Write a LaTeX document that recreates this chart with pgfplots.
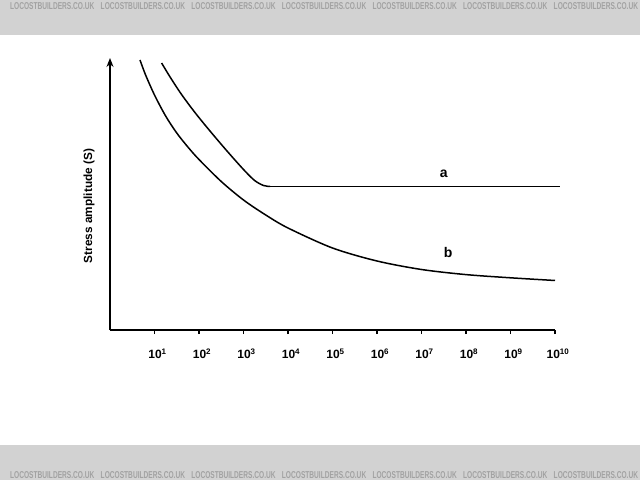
\documentclass[border=0pt]{standalone}
\usepackage{pgfplots}
\pgfplotsset{compat=1.18}
\usepackage{fontspec}
\setmainfont{Liberation Sans}
\usetikzlibrary{arrows.meta}
\definecolor{band}{HTML}{D2D2D2}
\definecolor{wm}{HTML}{A2A2A2}
\begin{document}
\begin{tikzpicture}
\useasboundingbox (0pt,0pt) rectangle (640pt,480pt);
\fill[white] (0pt,0pt) rectangle (640pt,480pt);
\fill[band] (0pt,445pt) rectangle (640pt,480pt);
\fill[band] (0pt,0pt) rectangle (640pt,35pt);
\foreach \i in {0,...,6} {
  \node[wm, font=\bfseries\fontsize{10}{10}\selectfont, xscale=0.66, anchor=west, inner sep=0pt] at ({(10+90.6*\i)*1pt}, 473.5pt) {LOCOSTBUILDERS.CO.UK};
  \node[wm, font=\bfseries\fontsize{10}{10}\selectfont, xscale=0.66, anchor=west, inner sep=0pt] at ({(10+90.6*\i)*1pt}, 5pt) {LOCOSTBUILDERS.CO.UK};
}
\begin{axis}[
  at={(110pt,150pt)}, anchor=south west,
  scale only axis, width=445pt, height=272pt,
  xmin=0, xmax=10, ymin=0, ymax=272,
  axis x line=bottom, axis y line=left,
  x axis line style={-},
  y axis line style={-{Stealth[length=9pt,width=7pt]}},
  axis line style={line width=1.3pt},
  ytick=\empty,
  xtick={1,2,3,4,5,6,7,8,9,10},
  xticklabels={10\textsuperscript{1},10\textsuperscript{2},10\textsuperscript{3},10\textsuperscript{4},10\textsuperscript{5},10\textsuperscript{6},10\textsuperscript{7},10\textsuperscript{8},10\textsuperscript{9},10\textsuperscript{10}},
  xminorticks=false,
  tick align=outside, major tick length=4pt,
  tick style={black, line width=1.2pt},
  xticklabel style={font=\bfseries\fontsize{12}{14}\selectfont, yshift=-11pt, xshift=3pt},
  clip=false,
]
% x values are log10(N)
% curve a (descending part)
\addplot[black, line width=1.5pt, smooth] coordinates {
  (1.16,267) (1.35,253) (1.6,236) (1.9,218) (2.2,201.5) (2.6,180.5)
  (3.0,160.5) (3.25,149.5) (3.45,144.5) (3.6,143.5)
};
% curve a (endurance limit)
\addplot[black, line width=1.5pt] coordinates {
  (3.6,143.5) (10.11,143.5)
};
% curve b
\addplot[black, line width=1.5pt, smooth] coordinates {
  (0.674,270) (0.8,255) (1.0,235) (1.25,214) (1.5,197) (1.75,183)
  (2.0,170.5) (2.5,148.5) (3.0,130) (3.5,115) (4.0,102) (5.0,82)
  (6.0,69) (7.0,60.5) (8.0,55.4) (9.0,52.2) (10.0,49.5)
};
\node[font=\bfseries\fontsize{14}{14}\selectfont] at (axis cs:7.5,156) {a};
\node[font=\bfseries\fontsize{14}{14}\selectfont] at (axis cs:7.6,78) {b};
\end{axis}
\node[rotate=90, font=\bfseries\fontsize{11.8}{13}\selectfont] at (89pt,274pt) {Stress amplitude (S)};
\end{tikzpicture}
\end{document}
